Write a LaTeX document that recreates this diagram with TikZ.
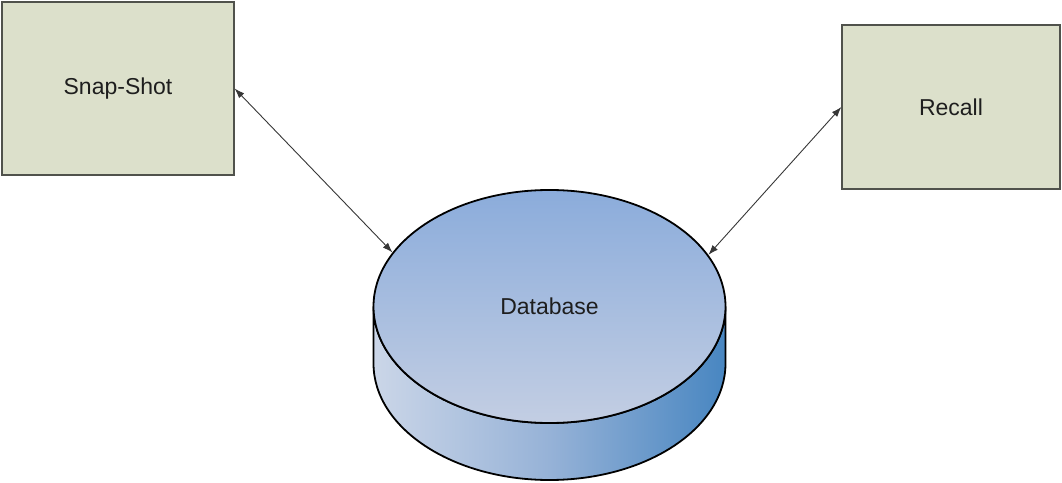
\documentclass[tikz,border=0pt]{standalone}
\usepackage{fontspec}
\setmainfont{Liberation Sans}
\usetikzlibrary{shapes.geometric,arrows.meta}
\definecolor{boxfill}{RGB}{220,224,203}
\definecolor{boxline}{RGB}{80,82,76}
\definecolor{sidel}{RGB}{203,214,232}
\definecolor{sidem}{RGB}{150,178,215}
\definecolor{sider}{RGB}{72,134,193}
\definecolor{topt}{RGB}{139,172,219}
\definecolor{topb}{RGB}{195,206,227}
\definecolor{txt}{RGB}{30,30,30}
\definecolor{arr}{RGB}{55,55,55}
\tikzset{
  procbox/.style={draw=boxline, line width=1.3pt, fill=boxfill, inner sep=0pt,
    font=\fontsize{23}{27}\selectfont, text=txt},
  dbtopstyle/.style={ellipse, draw=black, line width=1.8pt, inner sep=0pt,
    minimum width=352pt, minimum height=233pt, top color=topt, bottom color=topb,
    font=\fontsize{23}{27}\selectfont, text=txt},
  link/.style={draw=arr, line width=0.9pt, {Latex[length=10pt,width=7pt]}-{Latex[length=10pt,width=7pt]}}
}
\begin{document}
\begin{tikzpicture}[x=1pt,y=1pt]
\useasboundingbox (0,0) rectangle (1062,482);
\fill[white] (0,0) rectangle (1062,482);
% boxes
\node[procbox, minimum width=232pt, minimum height=173pt] (snap) at (118,393.5) {Snap-Shot};
\node[procbox, minimum width=218pt, minimum height=164pt] (recall) at (951,375) {Recall};
% cylinder side
\path[left color=sidel, right color=sider, middle color=sidem, draw=black, line width=1.8pt]
  (373.5,175.5) -- (373.5,118.5)
  arc[start angle=180, end angle=360, x radius=176, y radius=116.5]
  -- (725.5,175.5)
  arc[start angle=0, end angle=-180, x radius=176, y radius=116.5] -- cycle;
% cylinder top
\node[dbtopstyle] (db) at (549.5,175.5) {Database};
% connectors
\draw[link] (snap.east) -- (db.161);
\draw[link] (recall.west) -- (db.18);
\end{tikzpicture}
\end{document}
